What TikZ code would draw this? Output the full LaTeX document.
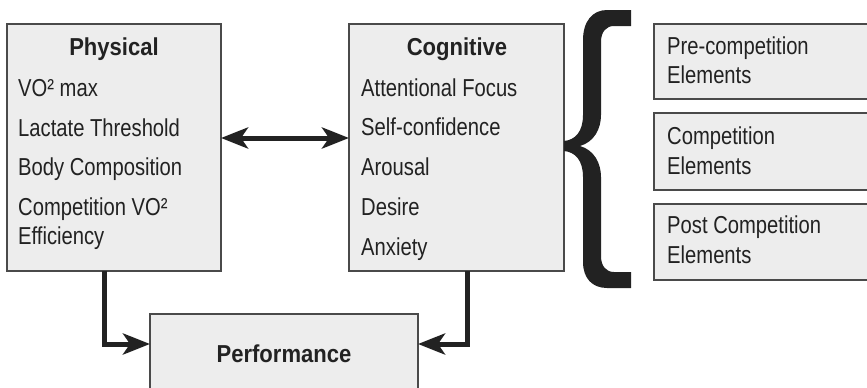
\documentclass[tikz,border=0pt]{standalone}
\usepackage{fontspec}
\setmainfont{Liberation Sans}[FakeStretch=0.825]
\newfontfamily\headfont{Liberation Sans}[FakeStretch=0.9]
\usetikzlibrary{arrows.meta}
\definecolor{boxfill}{HTML}{EDEDED}
\definecolor{boxline}{HTML}{4A4A4A}
\definecolor{ink}{HTML}{222222}
\begin{document}
\begin{tikzpicture}[x=1pt,y=-1pt,
  panel/.style={draw=boxline, fill=boxfill, line width=1.2pt, inner sep=0pt,
                outer sep=0pt, anchor=north west},
  item/.style={anchor=base west, inner sep=0pt, text=ink,
               font=\fontsize{24.5}{28}\selectfont},
  head/.style={anchor=base, inner sep=0pt, text=ink,
               font=\headfont\bfseries\fontsize{24.5}{28}\selectfont},
  tip/.tip={Stealth[length=27pt,width=21pt,inset=7pt]},
  link/.style={draw=ink, line width=5pt, line join=miter},
]
\useasboundingbox (0,0) rectangle (867,388);
\clip (0,0) rectangle (867,388);

% main factor boxes
\node[panel, minimum width=214pt, minimum height=247pt] (phys) at (7,24) {};
\node[panel, minimum width=215pt, minimum height=247pt] (cog) at (349,24) {};
\node[panel, minimum width=268pt, minimum height=110pt] (perf) at (150,314) {};

% phase boxes (running off the right edge)
\node[panel, minimum width=240pt, minimum height=75pt] (pre) at (654,24) {};
\node[panel, minimum width=240pt, minimum height=77pt] (comp) at (654,113) {};
\node[panel, minimum width=240pt, minimum height=76pt] (post) at (654,204) {};

% physical factors
\node[head] (physT) at (114,55) {Physical};
\node[item] (p1) at (18,96) {VO² max};
\node[item] (p2) at (18,136) {Lactate Threshold};
\node[item] (p3) at (18,175) {Body Composition};
\node[item] (p4) at (18,215) {Competition VO²};
\node[item] (p5) at (18,244) {Efficiency};

% cognitive factors
\node[head] (cogT) at (457,55) {Cognitive};
\node[item] (c1) at (361,96) {Attentional Focus};
\node[item] (c2) at (361,135) {Self-confidence};
\node[item] (c3) at (361,175) {Arousal};
\node[item] (c4) at (361,215) {Desire};
\node[item] (c5) at (361,255) {Anxiety};

% phases
\node[item] (r1a) at (667,54) {Pre-competition};
\node[item] (r1b) at (667,83) {Elements};
\node[item] (r2a) at (667,144) {Competition};
\node[item] (r2b) at (667,174) {Elements};
\node[item] (r3a) at (667,233) {Post Competition};
\node[item] (r3b) at (667,263) {Elements};

\node[head] (perfT) at (284,362) {Performance};

% connectors
\draw[link, tip-tip] ([yshift=-114pt]phys.north east) -- ([yshift=-114pt]cog.north west);
\draw[link, -tip] ([xshift=97pt]phys.south west) |- ([yshift=-30pt]perf.north west);
\draw[link, -tip] ([xshift=-97pt]cog.south east) |- ([yshift=-30pt]perf.north east);

% curly brace grouping the phases
\fill[ink] (631,10) -- (607,10) .. controls (592,10) and (583,22) .. (583,40)
  -- (583,115) .. controls (583,132) and (575,140) .. (564,141)
  -- (564,151) .. controls (575,152) and (583,160) .. (583,177)
  -- (583,262) .. controls (583,278) and (592,288) .. (607,288)
  -- (631,288) -- (631,272) -- (614,272)
  .. controls (606,272) and (601,266) .. (601,256)
  -- (601,177) .. controls (601,163) and (594,150) .. (580,146)
  .. controls (594,142) and (601,129) .. (601,115)
  -- (601,42) .. controls (601,32) and (606,26) .. (614,26)
  -- (631,26) -- cycle;
\end{tikzpicture}
\end{document}
